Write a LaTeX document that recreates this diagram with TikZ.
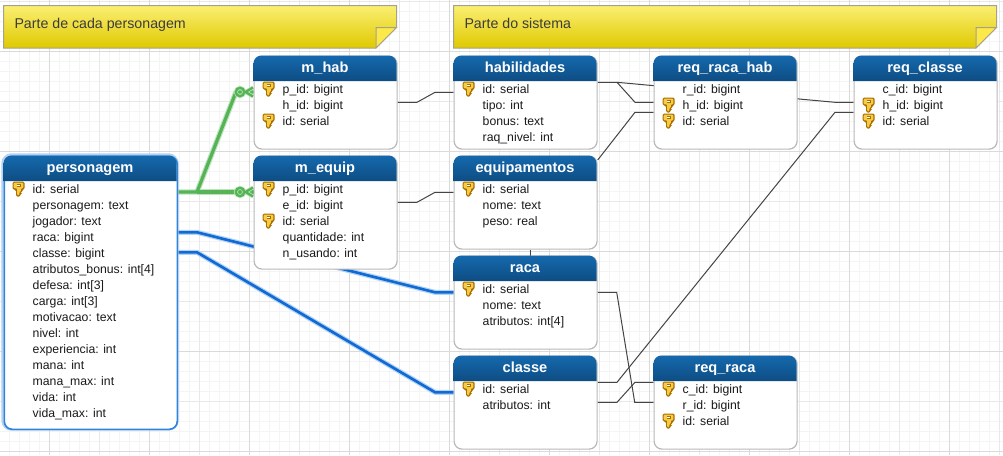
\documentclass[tikz,border=0pt]{standalone}
\usepackage{fontspec}
\setmainfont{Liberation Sans}
\usetikzlibrary{calc}
\definecolor{gridminor}{HTML}{F4F4F4}
\definecolor{gridmid}{HTML}{E8E8E8}
\definecolor{gridmajor}{HTML}{DADADA}
\definecolor{headtop}{HTML}{1569AE}
\definecolor{headbot}{HTML}{0E4D83}
\definecolor{tblborder}{HTML}{B9B9B9}
\definecolor{notetop}{HTML}{FBEF72}
\definecolor{notebot}{HTML}{DFC900}
\definecolor{notefold}{HTML}{FDE84A}
\definecolor{noteline}{HTML}{A5A28A}
\definecolor{keyfill}{HTML}{F6CB45}
\definecolor{keyline}{HTML}{A96F00}
\definecolor{linkdark}{HTML}{444444}
\definecolor{greenglow}{HTML}{BCE3BC}
\definecolor{greenline}{HTML}{55B455}
\definecolor{blueglow}{HTML}{B3D2F3}
\definecolor{blueline}{HTML}{0F6BD3}
\definecolor{selline}{HTML}{2F83DC}
\definecolor{textdark}{HTML}{1A1A1A}
\pgfdeclarelayer{gridlayer}
\pgfdeclarelayer{linklayer}
\pgfsetlayers{gridlayer,linklayer,main}
\tikzset{
  x=1pt,y=-1pt,
  tablebody/.style={draw=tblborder,line width=1.2pt,fill=white,rounded corners=8pt,inner sep=0pt,anchor=north west},
  selbody/.style={tablebody,draw=selline,line width=1.6pt},
  rowtext/.style={anchor=base west,inner sep=0pt,text=textdark,font=\fontsize{12.25}{14}\selectfont},
  titletext/.style={anchor=base,inner sep=0pt,text=white,font=\fontsize{14.6}{16}\selectfont\bfseries},
  notetext/.style={anchor=base west,inner sep=0pt,text=textdark!85,font=\fontsize{14.2}{16}\selectfont},
  notebody/.style={draw=noteline,line width=1pt,top color=notetop,bottom color=notebot},
  notecorner/.style={draw=noteline,line width=1pt,fill=notefold},
  darklink/.style={draw=linkdark,line width=1pt},
  gglow/.style={draw=greenglow,line width=5.4pt,line join=round},
  gline/.style={draw=greenline,line width=3.2pt,line join=round},
  bglow/.style={draw=blueglow,line width=5pt,line join=round},
  bline/.style={draw=blueline,line width=2.6pt,line join=round},
}
% x, y of the top-left corner of a key icon
\newcommand\keyicon[2]{%
  \begin{scope}[shift={(#1,#2)}]
    \fill[keyline,rounded corners=1.5pt] (-0.5,-0.5) -- (11.5,-0.5) -- (11.5,7.5) -- (9,7.5) -- (9,11) -- (7.5,11) -- (7.5,14.5) -- (3,14.5) -- (3,7.5) -- (-0.5,7.5) -- cycle;
    \fill[keyfill,rounded corners=1pt] (0.7,0.7) -- (10.3,0.7) -- (10.3,6.3) -- (7.8,6.3) -- (7.8,9.8) -- (6.3,9.8) -- (6.3,13.3) -- (4.2,13.3) -- (4.2,6.3) -- (0.7,6.3) -- cycle;
    \fill[keyline] (3.5,2.2) rectangle (7.5,4.6);
    \fill[white] (4.3,2.8) rectangle (6.7,4);
  \end{scope}}
% name, title, x, y, width, height, body style, rows {flag/text,...}
\newcommand\dbtable[8]{%
  \node[#7,minimum width=#5pt,minimum height=#6pt] (#1) at (#3,#4) {};
  \pgfmathsetmacro\hbx{#3+#5}\pgfmathsetmacro\hby{#4+25.5}\pgfmathsetmacro\hcx{#3+#5/2}
  \pgfmathsetmacro\tby{#4+16.9}
  \shade[top color=headtop,bottom color=headbot]
    (#3,\hby) [rounded corners=8pt] -- (#3,#4) -- (\hbx,#4) [sharp corners] -- (\hbx,\hby) -- cycle;
  \node[titletext] (#1-title) at (\hcx,\tby) {#2};
  \pgfmathsetmacro\txx{#3+29}\pgfmathsetmacro\kxx{#3+9.5}
  \foreach \kk/\tt [count=\ii from 0] in {#8} {
    \pgfmathsetmacro\rby{#4+37.8+16*\ii}
    \pgfmathsetmacro\kyy{#4+26.5+16*\ii}
    \node[rowtext] (#1-r\ii) at (\txx,\rby) {\tt};
    \ifnum\kk=1 \keyicon{\kxx}{\kyy}\fi
  }}
\begin{document}
\begin{tikzpicture}
\useasboundingbox (0,0) rectangle (1003,455);
\begin{pgfonlayer}{gridlayer}
  \fill[white] (0,0) rectangle (1003,455);
  \foreach \k in {0,...,99} {\pgfmathsetmacro\gx{9.5+10*\k}\draw[gridminor,line width=1pt] (\gx,0) -- (\gx,455);}
  \foreach \k in {0,...,45} {\pgfmathsetmacro\gy{1.5+10*\k}\draw[gridminor,line width=1pt] (0,\gy) -- (1003,\gy);}
  \foreach \k in {0,...,9} {\pgfmathsetmacro\gx{99.5+100*\k}\draw[gridmid,line width=1pt] (\gx,0) -- (\gx,455);}
  \foreach \k in {0,...,4} {\pgfmathsetmacro\gy{1.5+100*\k}\draw[gridmid,line width=1pt] (0,\gy) -- (1003,\gy);}
  \foreach \k in {0,...,9} {\pgfmathsetmacro\gx{49.5+100*\k}\draw[gridmajor,line width=1pt] (\gx,0) -- (\gx,455);}
  \foreach \k in {0,...,4} {\pgfmathsetmacro\gy{51.5+100*\k}\draw[gridmajor,line width=1pt] (0,\gy) -- (1003,\gy);}
\end{pgfonlayer}

% notes
\path[notebody] (3.5,5.5) -- (396.5,5.5) -- (396.5,27.5) -- (376,48) -- (3.5,48) -- cycle;
\path[notecorner] (376,48) -- (376,27.5) -- (396.5,27.5) -- cycle;
\node[notetext] (note1) at (14.3,28.4) {Parte de cada personagem};
\path[notebody] (453.5,5.5) -- (996.5,5.5) -- (996.5,27.5) -- (976,48) -- (453.5,48) -- cycle;
\path[notecorner] (976,48) -- (976,27.5) -- (996.5,27.5) -- cycle;
\node[notetext] (note2) at (464.3,28.4) {Parte do sistema};

% tables
\draw[blueglow,line width=4.4pt,rounded corners=8pt] (3.5,155.5) rectangle (176.5,428.5);
\dbtable{personagem}{personagem}{3.5}{155.5}{173}{273}{selbody}{1/id: serial,0/personagem: text,0/jogador: text,0/raca: bigint,0/classe: bigint,0/atributos\_bonus: int[4],0/defesa: int[3],0/carga: int[3],0/motivacao: text,0/nivel: int,0/experiencia: int,0/mana: int,0/mana\_max: int,0/vida: int,0/vida\_max: int}
\dbtable{mhab}{m\_hab}{253.5}{55.5}{143}{93}{tablebody}{1/p\_id: bigint,0/h\_id: bigint,1/id: serial}
\dbtable{mequip}{m\_equip}{253.5}{155.5}{143}{113}{tablebody}{1/p\_id: bigint,0/e\_id: bigint,1/id: serial,0/quantidade: int,0/n\_usando: int}
\dbtable{habilidades}{habilidades}{453.5}{55.5}{143}{93}{tablebody}{1/id: serial,0/tipo: int,0/bonus: text,0/raq\_nivel: int}
\dbtable{equipamentos}{equipamentos}{453.5}{155.5}{143}{93}{tablebody}{1/id: serial,0/nome: text,0/peso: real}
\dbtable{raca}{raca}{453.5}{255.5}{143}{93}{tablebody}{1/id: serial,0/nome: text,0/atributos: int[4]}
\dbtable{classe}{classe}{453.5}{355.5}{143}{93}{tablebody}{1/id: serial,0/atributos: int}
\dbtable{reqracahab}{req\_raca\_hab}{653.5}{55.5}{143}{93}{tablebody}{0/r\_id: bigint,1/h\_id: bigint,1/id: serial}
\dbtable{reqclasse}{req\_classe}{853.5}{55.5}{143}{93}{tablebody}{0/c\_id: bigint,1/h\_id: bigint,1/id: serial}
\dbtable{reqraca}{req\_raca}{653.5}{355.5}{143}{93}{tablebody}{1/c\_id: bigint,0/r\_id: bigint,1/id: serial}

% connectors
\begin{pgfonlayer}{linklayer}
  \coordinate (gsplit) at (197,192);
  \foreach \st in {gglow,gline} {
    \draw[\st] (personagem.east |- gsplit) -- (gsplit) -- (236,92) -- (mhab.west |- 0,92);
    \draw[\st] (gsplit) -- (mequip.west |- gsplit);
  }
  \foreach \yy in {92,192} {
    \foreach \st/\wd in {greenglow/3.8pt,greenline/2.3pt} {
      \draw[\st,line width=\wd] (240,\yy) circle[radius=4.2];
      \draw[\st,line width=\wd] (253,\yy-4.5) -- (245.5,\yy) -- (253,\yy+4.5);
    }
  }
  \foreach \st in {bglow,bline} {
    \draw[\st] (personagem.east |- 0,232.3) -- (197,232.3) -- (435,292.3) -- (raca.west |- 0,292.3);
    \draw[\st] (personagem.east |- 0,252.3) -- (197,252.3) -- (435,392.3) -- (classe.west |- 0,392.3);
  }
  \draw[darklink] (mhab.east |- 0,102.3) -- (417,102.3) -- (435,92.3) -- (habilidades.west |- 0,92.3);
  \draw[darklink] (mequip.east |- 0,202.3) -- (417,202.3) -- (435,192.3) -- (equipamentos.west |- 0,192.3);
  \draw[darklink] (habilidades.east |- 0,82.3) -- (617,82.3) -- (635,102.3) -- (reqracahab.west |- 0,102.3);
  \draw[darklink] (617,82.3) -- (835,102.3) -- (reqclasse.west |- 0,102.3);
  \draw[darklink] (equipamentos.east |- 0,160) -- (635,112.3) -- (reqracahab.west |- 0,112.3);
  \draw[darklink] (classe.east |- 0,382.3) -- (617,382.3) -- (835,112.3) -- (reqclasse.west |- 0,112.3);
  \draw[darklink] (classe.east |- 0,402.3) -- (617,402.3) -- (635,382.3) -- (reqraca.west |- 0,382.3);
  \draw[darklink] (raca.east |- 0,292.3) -- (616.7,292.3) -- (634.7,402.3) -- (reqraca.west |- 0,402.3);
  \draw[darklink] (raca.north -| 530.5,0) -- (equipamentos.south -| 530.5,0);
\end{pgfonlayer}
\end{tikzpicture}
\end{document}
